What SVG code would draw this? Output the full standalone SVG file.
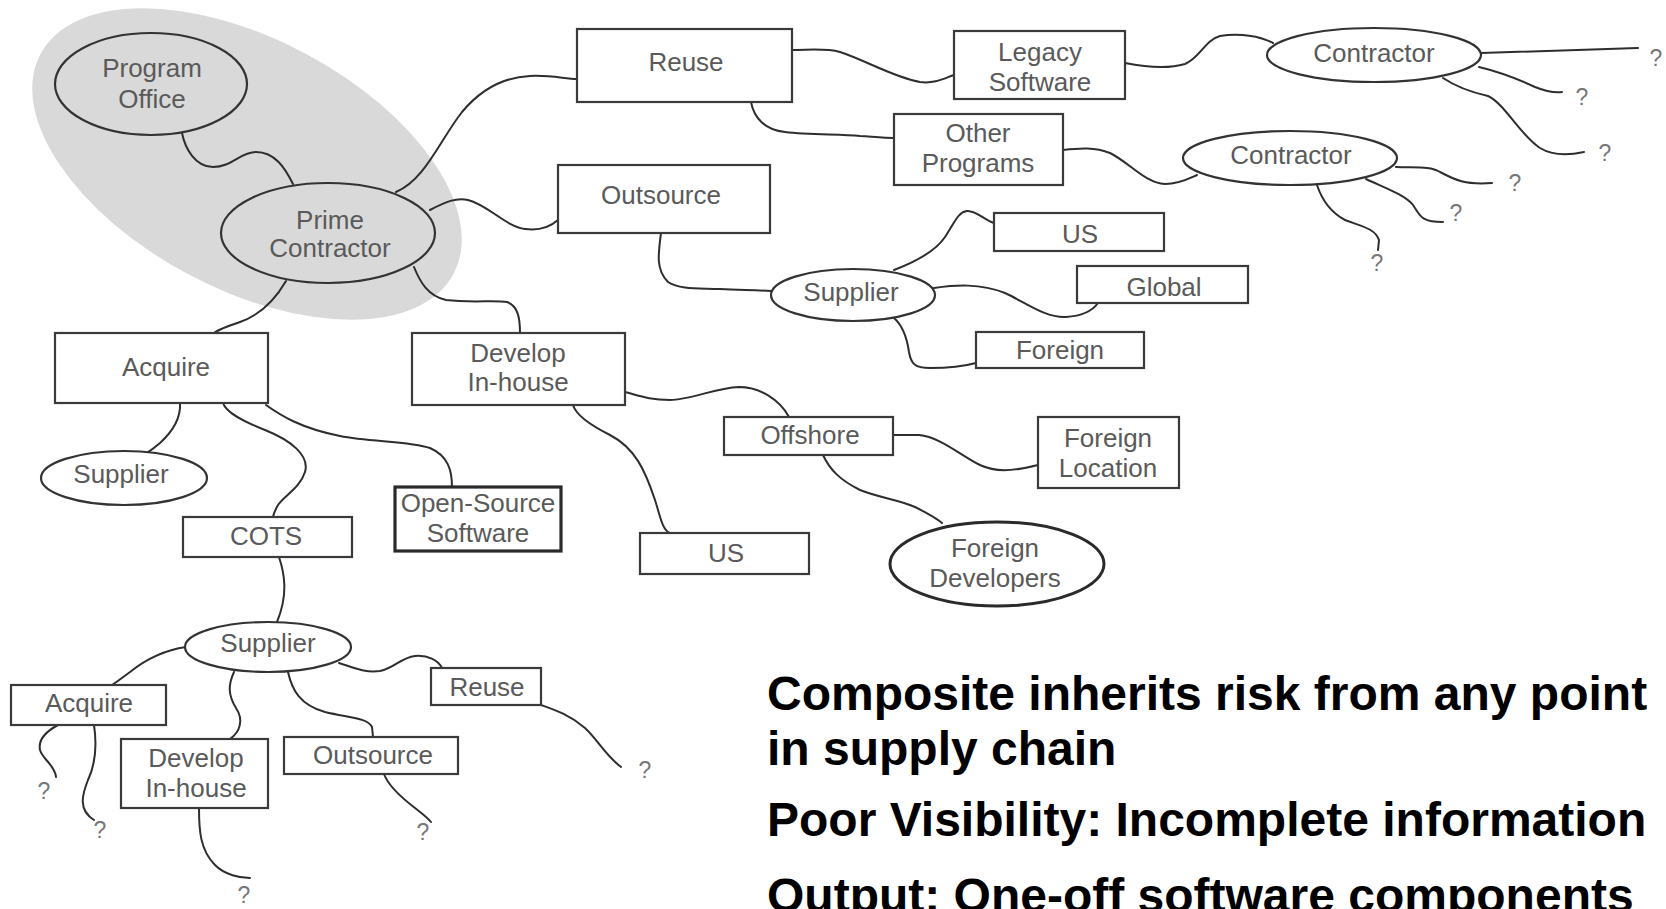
<svg xmlns="http://www.w3.org/2000/svg" width="1666" height="909" viewBox="0 0 1666 909">
  <defs>
    <style>
      .box { fill: #ffffff; stroke: #3a3a3a; stroke-width: 2.2; }
      .box-heavy { fill: #ffffff; stroke: #2a2a2a; stroke-width: 3.2; }
      .oval { fill: #ffffff; stroke: #333333; stroke-width: 2.2; }
      .oval-clear { fill: none; stroke: #333333; stroke-width: 2.2; }
      .oval-heavy { fill: #ffffff; stroke: #2a2a2a; stroke-width: 3; }
      .lbl { font-family: "Liberation Sans", Arial, sans-serif; font-size: 26px; fill: #5a5a5a; text-anchor: middle; }
      .q { font-family: "Liberation Sans", Arial, sans-serif; font-size: 23px; fill: #777777; text-anchor: middle; }
      .wire { fill: none; stroke: #2e2e2e; stroke-width: 2; stroke-linecap: round; }
      .note { font-family: "Liberation Sans", Arial, sans-serif; font-size: 48px; font-weight: bold; fill: #000000; }
    </style>
  </defs>

  <rect width="1666" height="909" fill="#ffffff"/>

  <!-- shaded region around the program office and prime contractor -->
  <ellipse id="core-region" cx="247" cy="164" rx="234" ry="125" transform="rotate(28 247 164)" fill="#d9d9d9"/>

  <!-- connectors -->
  <g id="connectors" class="wire">
    <path class="wire" d="M182,133 C185,148 195,167 213,167 C232,167 240,152 256,152 C275,152 285,168 293,184"/>
    <path class="wire" d="M396,192 C425,180 440,140 462,112 C482,88 505,77 530,76 C552,75 565,79 577,79"/>
    <path class="wire" d="M430,210 C445,202 457,197 468,200 C488,205 505,226 525,229 C540,231 550,227 558,220"/>
    <path class="wire" d="M414,267 C420,282 428,296 446,300 C470,303 495,300 507,302 C518,306 520,318 520,333"/>
    <path class="wire" d="M286,281 C275,300 260,315 240,322 C225,327 218,330 214,333"/>
    <path class="wire" d="M792,50 C810,50 825,48 840,52 C865,60 895,78 920,82 C935,84 945,78 954,75"/>
    <path class="wire" d="M751,102 C754,118 765,130 785,132 C810,135 840,134 860,136 C875,137 885,138 894,138"/>
    <path class="wire" d="M1125,63 C1140,66 1165,70 1185,64 C1200,58 1205,40 1220,36 C1240,33 1260,36 1273,43"/>
    <path class="wire" d="M1481,53 L1638,48"/>
    <path class="wire" d="M1479,67 C1500,72 1520,80 1535,87 C1545,91 1555,93 1562,92"/>
    <path class="wire" d="M1443,78 C1455,86 1470,92 1488,96 C1505,104 1520,135 1540,148 C1553,156 1570,155 1584,152"/>
    <path class="wire" d="M1063,150 C1080,148 1095,147 1110,153 C1130,163 1145,183 1165,184 C1180,184 1190,178 1197,175"/>
    <path class="wire" d="M1396,167 C1415,168 1430,166 1440,172 C1455,180 1465,185 1492,183"/>
    <path class="wire" d="M1366,179 C1385,188 1405,195 1413,205 C1420,215 1420,222 1443,222"/>
    <path class="wire" d="M1317,185 C1322,200 1330,212 1345,220 C1360,226 1375,228 1379,240 L1378,250"/>
    <path class="wire" d="M661,233 C658,255 656,270 668,282 C680,290 700,288 720,289 C740,290 755,290 771,291"/>
    <path class="wire" d="M894,270 C915,262 935,252 945,237 C955,222 958,212 967,211 C975,210 985,220 994,223"/>
    <path class="wire" d="M934,288 C955,285 980,283 1005,293 C1025,302 1045,318 1066,317 C1082,316 1093,310 1098,303"/>
    <path class="wire" d="M894,318 C902,325 907,338 909,352 C911,364 915,368 930,368 C950,368 965,366 976,363"/>
    <path class="wire" d="M180,403 C181,418 172,432 160,443 C154,448 150,451 148,452"/>
    <path class="wire" d="M223,403 C226,412 240,420 265,430 C290,440 310,455 305,472 C300,488 285,495 278,505 C274,512 273,517 273,517"/>
    <path class="wire" d="M266,405 C280,415 300,428 340,436 C370,442 410,441 430,448 C448,456 452,470 452,487"/>
    <path class="wire" d="M279,557 C285,575 288,595 277,622"/>
    <path class="wire" d="M625,392 C640,396 650,400 670,400 C690,400 715,388 739,387 C760,387 780,400 789,417"/>
    <path class="wire" d="M573,405 C576,415 590,425 610,435 C635,448 645,470 655,500 C660,515 662,530 670,533"/>
    <path class="wire" d="M893,435 L919,435 C940,437 960,455 980,465 C995,472 1010,472 1038,465"/>
    <path class="wire" d="M823,455 C830,470 840,480 860,490 C880,498 900,500 915,507 C925,512 935,517 942,523"/>
    <path class="wire" d="M186,647 C165,650 145,660 130,672 C122,678 115,683 112,685"/>
    <path class="wire" d="M58,725 C45,732 38,740 40,750 C43,760 55,765 56,777"/>
    <path class="wire" d="M94,725 C97,745 95,765 88,780 C82,795 78,810 94,820"/>
    <path class="wire" d="M234,672 C228,685 228,695 236,708 C244,720 240,732 230,739"/>
    <path class="wire" d="M199,808 C199,830 200,850 215,865 C225,875 240,878 250,878"/>
    <path class="wire" d="M288,672 C292,690 300,705 325,712 C350,718 368,718 372,727 L373,737"/>
    <path class="wire" d="M384,774 C388,785 398,795 415,808 C424,815 428,818 431,822"/>
    <path class="wire" d="M339,663 C355,668 365,673 380,671 C395,668 400,658 415,656 C428,655 438,660 442,668"/>
    <path class="wire" d="M541,705 C555,710 570,715 585,728 C598,740 605,755 621,767"/>
  </g>

  <!-- open ends of the chain -->
  <g id="unknown-ends">
    <text class="q" x="1656" y="66">?</text>
    <text class="q" x="1582" y="105">?</text>
    <text class="q" x="1605" y="161">?</text>
    <text class="q" x="1515" y="191">?</text>
    <text class="q" x="1456" y="221">?</text>
    <text class="q" x="1377" y="271">?</text>
    <text class="q" x="645" y="778">?</text>
    <text class="q" x="44" y="799">?</text>
    <text class="q" x="100" y="838">?</text>
    <text class="q" x="244" y="903">?</text>
    <text class="q" x="423" y="840">?</text>
  </g>

  <g id="program-office">
    <ellipse class="oval-clear" cx="151" cy="84" rx="96" ry="51"/>
    <text class="lbl" x="152" y="77">Program</text>
    <text class="lbl" x="152" y="108">Office</text>
  </g>

  <g id="prime-contractor">
    <ellipse class="oval-clear" cx="328" cy="233" rx="107" ry="50"/>
    <text class="lbl" x="330" y="229">Prime</text>
    <text class="lbl" x="330" y="257">Contractor</text>
  </g>

  <g id="reuse">
    <rect class="box" x="577" y="29" width="215" height="73"/>
    <text class="lbl" x="686" y="71">Reuse</text>
  </g>

  <g id="legacy-software">
    <rect class="box" x="954" y="31" width="171" height="68"/>
    <text class="lbl" x="1040" y="61">Legacy</text>
    <text class="lbl" x="1040" y="91">Software</text>
  </g>

  <g id="other-programs">
    <rect class="box" x="894" y="114" width="169" height="71"/>
    <text class="lbl" x="978" y="142">Other</text>
    <text class="lbl" x="978" y="172">Programs</text>
  </g>

  <g id="contractor-legacy">
    <ellipse class="oval" cx="1374" cy="55" rx="107" ry="27"/>
    <text class="lbl" x="1374" y="62">Contractor</text>
  </g>

  <g id="contractor-other">
    <ellipse class="oval" cx="1290" cy="158" rx="107" ry="27"/>
    <text class="lbl" x="1291" y="164">Contractor</text>
  </g>

  <g id="outsource">
    <rect class="box" x="558" y="165" width="212" height="68"/>
    <text class="lbl" x="661" y="204">Outsource</text>
  </g>

  <g id="supplier-outsource">
    <ellipse class="oval" cx="853" cy="295" rx="82" ry="26"/>
    <text class="lbl" x="851" y="301">Supplier</text>
  </g>

  <g id="us-supplier">
    <rect class="box" x="994" y="213" width="170" height="38"/>
    <text class="lbl" x="1080" y="243">US</text>
  </g>

  <g id="global">
    <rect class="box" x="1077" y="266" width="171" height="37"/>
    <text class="lbl" x="1164" y="296">Global</text>
  </g>

  <g id="foreign">
    <rect class="box" x="976" y="332" width="168" height="36"/>
    <text class="lbl" x="1060" y="359">Foreign</text>
  </g>

  <g id="acquire">
    <rect class="box" x="55" y="333" width="213" height="70"/>
    <text class="lbl" x="166" y="376">Acquire</text>
  </g>

  <g id="develop-in-house">
    <rect class="box" x="412" y="333" width="213" height="72"/>
    <text class="lbl" x="518" y="362">Develop</text>
    <text class="lbl" x="518" y="391">In-house</text>
  </g>

  <g id="offshore">
    <rect class="box" x="724" y="417" width="169" height="38"/>
    <text class="lbl" x="810" y="444">Offshore</text>
  </g>

  <g id="foreign-location">
    <rect class="box" x="1038" y="417" width="141" height="71"/>
    <text class="lbl" x="1108" y="447">Foreign</text>
    <text class="lbl" x="1108" y="477">Location</text>
  </g>

  <g id="foreign-developers">
    <ellipse class="oval-heavy" cx="997" cy="564" rx="107" ry="42"/>
    <text class="lbl" x="995" y="557">Foreign</text>
    <text class="lbl" x="995" y="587">Developers</text>
  </g>

  <g id="us-in-house">
    <rect class="box" x="640" y="533" width="169" height="41"/>
    <text class="lbl" x="726" y="562">US</text>
  </g>

  <g id="supplier-acquire">
    <ellipse class="oval" cx="124" cy="478" rx="83" ry="27"/>
    <text class="lbl" x="121" y="483">Supplier</text>
  </g>

  <g id="open-source-software">
    <rect class="box-heavy" x="395" y="487" width="166" height="64"/>
    <text class="lbl" x="478" y="512">Open-Source</text>
    <text class="lbl" x="478" y="542">Software</text>
  </g>

  <g id="cots">
    <rect class="box" x="183" y="517" width="169" height="40"/>
    <text class="lbl" x="266" y="545">COTS</text>
  </g>

  <g id="supplier-cots">
    <ellipse class="oval" cx="268" cy="647" rx="83" ry="25"/>
    <text class="lbl" x="268" y="652">Supplier</text>
  </g>

  <g id="acquire-cots">
    <rect class="box" x="11" y="685" width="155" height="40"/>
    <text class="lbl" x="89" y="712">Acquire</text>
  </g>

  <g id="develop-cots">
    <rect class="box" x="121" y="739" width="147" height="69"/>
    <text class="lbl" x="196" y="767">Develop</text>
    <text class="lbl" x="196" y="797">In-house</text>
  </g>

  <g id="outsource-cots">
    <rect class="box" x="284" y="737" width="174" height="37"/>
    <text class="lbl" x="373" y="764">Outsource</text>
  </g>

  <g id="reuse-cots">
    <rect class="box" x="431" y="668" width="110" height="37"/>
    <text class="lbl" x="487" y="696">Reuse</text>
  </g>

  <!-- summary points -->
  <g id="summary">
    <text class="note" x="767" y="710">Composite inherits risk from any point</text>
    <text class="note" x="767" y="765">in supply chain</text>
    <text class="note" x="767" y="836">Poor Visibility: Incomplete information</text>
    <text class="note" x="767" y="912">Output: One-off software components</text>
  </g>
</svg>
